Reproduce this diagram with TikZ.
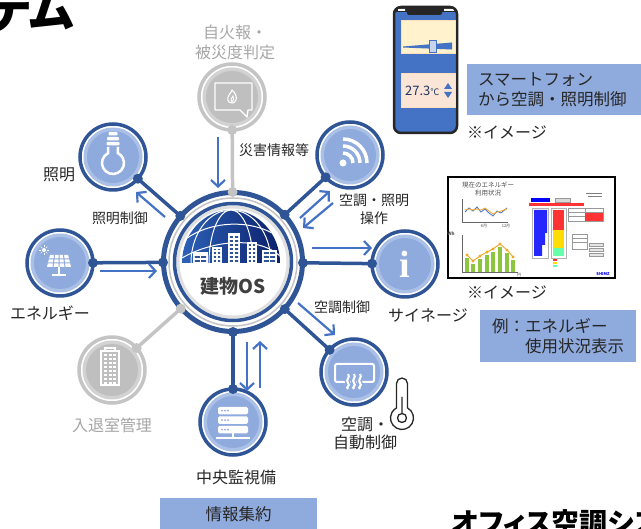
\documentclass[tikz,border=0pt]{standalone}
\usepackage{fontspec}
\setmainfont{Noto Sans CJK JP}
\newfontfamily\headfont{Noto Sans CJK JP}[RawFeature=+palt]
\newfontfamily\ifont{Liberation Serif}
\usetikzlibrary{arrows.meta,calc}

\definecolor{osblue}{HTML}{2F5597}
\definecolor{arrowblue}{HTML}{4472C4}
\definecolor{paleblue}{HTML}{8FAADC}
\definecolor{rimblue}{HTML}{ABC0E6}
\definecolor{offgray}{HTML}{C4C4C4}
\definecolor{diskgray}{HTML}{BFBFBF}
\definecolor{rimgray}{HTML}{D2D2D2}
\definecolor{labelgray}{HTML}{A6A6A6}
\definecolor{ink}{HTML}{262626}
\definecolor{domeleft}{HTML}{2C62B8}
\definecolor{domeright}{HTML}{0B1F6B}
\definecolor{memo}{HTML}{FFF2CC}
\definecolor{peach}{HTML}{FBE5D6}
\definecolor{navy}{HTML}{1F3864}
\definecolor{bargreen}{HTML}{8CC63F}
\definecolor{lineorange}{HTML}{F5A623}

\tikzset{
  sat/.style={circle,draw=osblue,line width=3.5pt,fill=white,minimum size=66pt,inner sep=0pt},
  satoff/.style={sat,draw=offgray},
  spoke/.style={osblue,line width=3.5pt},
  spokeoff/.style={offgray,line width=3.5pt},
  flow/.style={arrowblue,line width=2.2pt,-{Straight Barb[length=6.5pt,width=14pt]}},
  lab/.style={text=ink,font=\fontsize{16}{20}\selectfont,align=center,inner sep=0pt},
  laboff/.style={lab,text=labelgray},
  tag/.style={text=ink,font=\fontsize{14}{18}\selectfont,align=center,inner sep=0pt},
  note/.style={fill=paleblue,anchor=north west,align=left,text=ink,font=\fontsize{16.5}{20}\selectfont},
  tiny/.style={inner sep=0pt,text=black!70,font=\fontsize{4}{5}\selectfont}
}

\begin{document}
\begin{tikzpicture}[x=1pt,y=-1pt]
\useasboundingbox (0,0) rectangle (641,529);
\clip (0,0) rectangle (641,529);

% headings
\node[anchor=base east,inner sep=0pt,font=\headfont\bfseries\fontsize{48}{48}\selectfont] (title) at (74,28) {システム};
\node[anchor=base west,inner sep=0pt,font=\headfont\bfseries\fontsize{28}{28}\selectfont] (caption) at (452,534) {オフィス空調システム};

% hub and satellites
\node[circle,minimum size=140pt,inner sep=0pt] (hub) at (233,262) {};
\node[satoff] (alarm) at (232,97) {};
\node[sat] (light) at (113,157) {};
\node[sat] (energy) at (60,263) {};
\node[satoff] (entry) at (112,370) {};
\node[sat] (monitor) at (233,422) {};
\node[sat] (wifi) at (350,155) {};
\node[sat] (info) at (405,264) {};
\node[sat] (air) at (354,372) {};

\foreach \s in {light,energy,monitor,wifi,info,air}{
  \fill[rimblue] (\s) circle (29.5);
  \fill[paleblue] (\s) circle (26);
}
\foreach \s in {alarm,entry}{
  \fill[rimgray] (\s) circle (29.5);
  \fill[diskgray] (\s) circle (26);
}

% rings of the hub
\fill[white] (hub) circle (68);
\draw[osblue,line width=5pt] (hub) circle (69.5);
\draw[offgray,line width=1.5pt] (hub) circle (64);
\draw[black!12,line width=3pt] (hub) circle (55);
\draw[osblue,line width=3.5pt] (hub) circle (58.5);

% dome with the city
\begin{scope}[shift={(hub)}]
  \begin{scope}
    \clip (-51,1) arc (180:360:49 and 53) -- cycle;
    \shade[left color=domeleft,right color=domeright] (-52,-55) rectangle (48,2);
    \draw[white,line width=1pt] (-2,1) ellipse (22 and 53) (-2,1) ellipse (40 and 53);
    \draw[white,line width=1pt] (-51,-20) .. controls (-25,-42) and (20,-44) .. (47,-24);
    \draw[white,line width=1pt] (-51,-4) .. controls (-20,-22) and (25,-26) .. (47,-6);
    \foreach \l/\r/\t in {-40/-25/-10,-21/-11/-15,-5/7/-29,14/24/-20,29/44/-12}{
      \fill[white] (\l,\t) rectangle (\r,1);
      \begin{scope}
        \clip (\l+1.8,\t+2.5) rectangle (\r-1.8,-0.5);
        \foreach \y in {-30,-26,...,-2} \fill[osblue] (-50,\y) rectangle (50,\y+2);
      \end{scope}
      \draw[white,line width=1.2pt] ({(\l+\r)/2},\t) -- ({(\l+\r)/2},1);
    }
  \end{scope}
\end{scope}
\node[font=\bfseries\fontsize{19}{19}\selectfont,text=black!75,inner sep=0pt] (os) at (233,286) {建物OS};

% spokes
\foreach \s in {light,energy,monitor,wifi,info,air}{
  \draw[spoke] ($(hub)!70pt!(\s)$) coordinate (h-\s) -- ($(\s)!33pt!(hub)$) coordinate (s-\s);
  \fill[osblue] (h-\s) circle (5) (s-\s) circle (5);
}
\foreach \s in {alarm,entry}{
  \draw[spokeoff] ($(hub)!70pt!(\s)$) coordinate (h-\s) -- ($(\s)!33pt!(hub)$) coordinate (s-\s);
  \fill[offgray] (h-\s) circle (5) (s-\s) circle (5);
}

% icons
\begin{scope}[shift={(alarm)}]
  \draw[white,line width=1.3pt,line join=round] (-17,-14) -- (20,-14) -- (20,13) -- (16,13) -- (15,20) -- (8,13) -- (-17,13) -- cycle;
  \draw[white,line width=1.1pt,line join=round] (0,6) .. controls (-5,6) and (-5,1) .. (-3,-2) .. controls (-2,-4) and (0,-5) .. (0,-7) .. controls (4,-4) and (5,1) .. (4,3) .. controls (3,6) and (1,6) .. (0,6) -- cycle;
  \draw[white,line width=0.9pt] (0,5) .. controls (-2,4) and (-1,1) .. (1,-1) .. controls (2,1) and (2,4) .. (0,5);
\end{scope}
\begin{scope}[shift={(light)}]
  \draw[white,line width=2.5pt] (-5,-10) -- (-5,-3.8) arc (243:-63:11) -- (5,-10);
  \fill[white,rounded corners=1] (-6.5,-15) rectangle (6.5,-11.5) (-6,-20) rectangle (6,-16.5) (-4.5,-25) rectangle (4.5,-21.5);
\end{scope}
\begin{scope}[shift={(energy)}]
  \fill[white] (-10,-8) -- (8,-8) -- (11,4) -- (-13,4) -- cycle;
  \draw[paleblue,line width=1pt] (-11,-4) -- (9,-4) (-12,0) -- (10,0)
    (-5.5,-8) -- (-7,4) (-1,-8) -- (-1,4) (3.5,-8) -- (5,4);
  \draw[white,line width=1.5pt] (-1,4) -- (-1,12) (-8,12) -- (6,12);
  \fill[white] (-16,-13) circle (2);
  \foreach \a in {0,45,...,315} \draw[white,line width=0.7pt] ($(-16,-13)+(\a:3)$) -- ($(-16,-13)+(\a:4.6)$);
\end{scope}
\begin{scope}[shift={(entry)}]
  \draw[white,line width=1.5pt] (-11,-19) rectangle (7,15) (-7,-22) rectangle (3,-19);
  \foreach \i in {0,...,7} \foreach \j in {0,1,2}
    \fill[white] (-8+\j*4.5,-16+\i*4) rectangle ++(3,2.5);
\end{scope}
\begin{scope}[shift={(monitor)}]
  \foreach \y in {-15,-5.5,4}{
    \fill[white,rounded corners=1.5] (-15,\y) rectangle (15,\y+7.5);
    \foreach \x in {-11,-8,-5} \fill[paleblue] (\x,\y+3.75) circle (1);
  }
  \draw[white,line width=1.5pt] (0,11.5) -- (0,16) (-17,16) -- (17,16);
\end{scope}
\begin{scope}[shift={(wifi)}]
  \fill[white] (-7,8) circle (3.5);
  \foreach \r in {10,17,24} \draw[white,line width=3.5pt] ($(-7,8)+(\r,0)$) arc (0:-90:\r);
\end{scope}
\node[text=white,inner sep=0pt,font=\ifont\bfseries\fontsize{38}{38}\selectfont] (info-i) at (405,264) {i};
\begin{scope}[shift={(air)}]
  \draw[white,line width=2pt,rounded corners=2] (-19,-8) rectangle (20,10);
  \foreach \x in {-6,0,6}
    \draw[white,line width=2pt,preaction={draw=paleblue,line width=5pt}] (\x,2) .. controls (\x+3,5) and (\x-3,8) .. (\x,11) .. controls (\x+3,14) and (\x-3,15) .. (\x,17);
\end{scope}

% thermometer
\draw[ink,line width=1.3pt] (396.5,407.9) -- (396.5,383.5) arc (180:360:5.5) -- (407.5,407.9) arc (-61.4:241.4:11.5) -- cycle;
\draw[ink,line width=1.3pt] (402,397) -- (402,413.5) (402,418) circle (4.5);

% arrows along the spokes
\coordinate (a1) at (218,137); \coordinate (b1) at (218,188);
\coordinate (a2) at (165,217); \coordinate (b2) at (136,192);
\coordinate (a3) at (100,271); \coordinate (b3) at (157,271);
\coordinate (a4) at (247,342); \coordinate (b4) at (247,391);
\coordinate (a5) at (260,388); \coordinate (b5) at (260,341);
\coordinate (a6) at (300,218); \coordinate (b6) at (330,191);
\coordinate (a7) at (333,203); \coordinate (b7) at (303,228);
\coordinate (a8) at (312,248); \coordinate (b8) at (372,248);
\coordinate (a9) at (298,303); \coordinate (b9) at (335,335);
\foreach \i in {1,...,9} \draw[flow] (a\i) -- (b\i);

% labels
\node[laboff] (t-alarm) at (235,42) {自火報・\\被災度判定};
\node[lab] (t-light) at (59,175) {照明};
\node[lab] (t-energy) at (50,313) {エネルギー};
\node[laboff] (t-entry) at (112,425) {入退室管理};
\node[lab] (t-monitor) at (236,477) {中央監視備};
\node[lab] (t-info) at (428,315) {サイネージ};
\node[lab,font=\fontsize{16}{18}\selectfont] (t-air) at (365,433) {空調・\\自動制御};
\node[tag] (t-alert) at (274,150) {災害情報等};
\node[tag] (t-lightctl) at (120,218) {照明制御};
\node[tag] (t-op) at (374,209) {空調・照明\\操作};
\node[tag] (t-airctl) at (342,307) {空調制御};

% smartphone
\begin{scope}
  \clip[rounded corners=7] (394,7) rectangle (457,133);
  \fill[arrowblue] (394,7) rectangle (457,133);
  \fill[black!85] (394,7) rectangle (457,12);
  \fill[black!85,rounded corners=2] (407,5) rectangle (442,15);
  \fill[white] (398,9) rectangle (405,11) (444,9) rectangle (454,11);
\end{scope}
\draw[black!85,line width=2.5pt,rounded corners=7] (394,7) rectangle (457,133);
\filldraw[fill=memo,draw=orange!25,line width=0.8pt] (401,20) rectangle (455,53);
\fill[arrowblue] (403,46.5) -- (452,42.5) -- (452,49.5) -- (403,47.5) -- cycle;
\filldraw[fill=paleblue!50!white,draw=arrowblue,line width=0.8pt] (429,40) rectangle (436,52);
\filldraw[fill=peach,draw=orange!25,line width=0.8pt] (401,73) rectangle (455,107);
\node[anchor=west,inner sep=0pt,text=navy,font=\fontsize{13}{13}\selectfont] (temp) at (405,91) {27.3{\fontsize{9}{9}\selectfont ℃}};
\fill[arrowblue] (444,89) -- (452,89) -- (448,83) -- cycle;
\fill[arrowblue] (444,92) -- (452,92) -- (448,98) -- cycle;

% notes
\node[note,text width=160pt,minimum height=51pt,inner xsep=11pt] (phonebox) at (467,64) {スマートフォン\\から空調・照明制御};
\node[lab,anchor=west] (t-note1) at (467,132) {※イメージ};
\node[note,text width=132pt,minimum height=52pt,inner xsep=12pt] (signbox) at (480,310) {例：エネルギー\\\hspace*{2em}使用状況表示};
\node[lab,anchor=west] (t-note2) at (467,292) {※イメージ};
\node[note,align=center,minimum width=157pt,minimum height=33pt,inner sep=0pt] (infobox) at (160,498) {情報集約};

% energy dashboard
\draw[line width=2pt,fill=white] (448,177) rectangle (615,278);
\node[tiny,font=\fontsize{6.5}{8}\selectfont,align=center] (scr-title) at (488,189) {現在のエネルギー\\利用状況};
\draw[black!60,line width=0.6pt] (462,199) -- (462,222) -- (508,222);
\draw[arrowblue,line width=0.8pt] (465,212) -- (469,208) -- (473,211) -- (477,207) -- (481,212) -- (485,209) -- (489,213) -- (493,216) -- (497,211) -- (501,213) -- (507,208);
\draw[lineorange,line width=0.8pt] (465,210) -- (469,209) -- (473,210) -- (477,209) -- (481,210) -- (485,208) -- (489,211) -- (493,214) -- (497,212) -- (501,211) -- (507,209);
\node[tiny] (scr-jun) at (484,226) {6月};
\node[tiny] (scr-dec) at (506,226) {12月};
\node[tiny,font=\bfseries\fontsize{4.5}{5}\selectfont] (scr-wh) at (451,234) {Wh};
\draw[black!60,line width=0.6pt] (462,235) -- (462,272) -- (518,272);
\foreach \x/\t in {467/258,473/264,480/259,487/255,493/252,500/247,507/253,513/260}
  \fill[bargreen] (\x-1.8,\t) rectangle (\x+1.8,272);
\draw[lineorange,line width=0.9pt] plot coordinates {(467,255) (473,261) (480,256) (487,252) (493,249) (500,244) (507,250) (513,257)};
\foreach \x/\t in {467/255,473/261,480/256,487/252,493/249,500/244,507/250,513/257}
  \fill[lineorange] (\x,\t) circle (1.6);
\node[tiny] (scr-yen) at (519,275) {円};
\fill[blue] (531,198) rectangle (550,202);
\filldraw[fill=black!15,draw=black!40,line width=0.3pt] (555,198) rectangle (570,202);
\draw[black!50,line width=0.4pt] (586,193) -- (602,193) (588,196) -- (602,196);
\fill[red!80] (529,203) rectangle (584,206);
\draw[black!30,line width=0.3pt] (532,208) rectangle (548,258) (551,208) rectangle (566,258);
\fill[blue!85] (534,210) -- (547,210) -- (547,233) -- (545,233) -- (545,245) -- (542,245) -- (542,256) -- (534,256) -- cycle;
\fill[red!80] (553,210) rectangle (564,230);
\fill[yellow!80!orange] (553,230) rectangle (564,248);
\fill[green!55!cyan!60] (553,248) rectangle (564,256);
\fill[red!80] (553,259) rectangle (557,261);
\fill[yellow!80!orange] (553,262) rectangle (557,264);
\fill[green!55!cyan!60] (553,265) rectangle (557,267);
\draw[black!40,line width=0.3pt] (568,208) rectangle (603,221) (568,212) -- (603,212) (568,216) -- (585,216) (585,208) -- (585,221);
\fill[red!80] (585,213) rectangle (603,221);
\draw[black!40,line width=0.3pt] (572,234) rectangle (587,249) (572,238) -- (587,238) (572,242) -- (587,242);
\foreach \y in {243,248,253} \filldraw[fill=black!10,draw=black!40,line width=0.3pt] (589,\y) rectangle (603,\y+3);
\node[tiny,text=blue,font=\bfseries\fontsize{4}{5}\selectfont] (scr-logo) at (603,274) {SHIMZ};
\end{tikzpicture}
\end{document}
